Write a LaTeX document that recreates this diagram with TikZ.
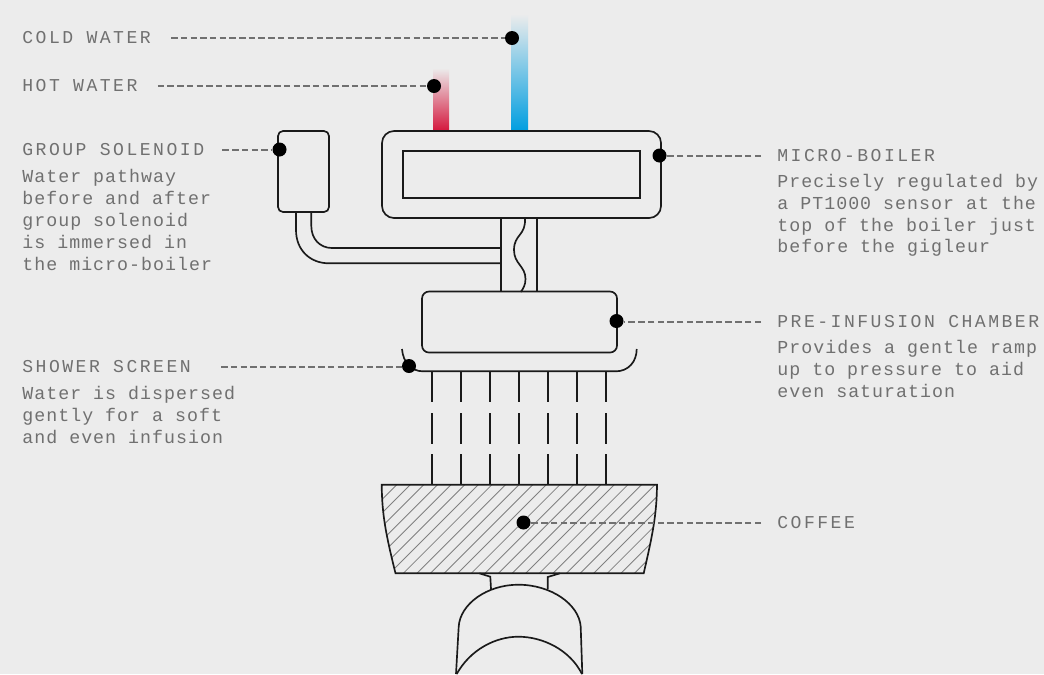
\documentclass[tikz,border=0pt]{standalone}
\usepackage{fontspec}
\setmainfont{Liberation Mono}
\newfontfamily\capsfont[LetterSpace=13.7]{Liberation Mono}
\newfontfamily\bodyfont[LetterSpace=5.6]{Liberation Mono}
\usetikzlibrary{positioning}
\definecolor{mybg}{RGB}{236, 236, 236}
\definecolor{myline}{RGB}{26, 26, 26}
\definecolor{mytext}{RGB}{112, 112, 112}
\definecolor{myred}{RGB}{212, 22, 60}
\definecolor{myblue}{RGB}{0, 158, 224}
\definecolor{mycyan}{RGB}{0, 192, 232}
\def\px{0.02cm}
\tikzset{
    part/.style={draw=myline, line width=0.95pt, rectangle, inner sep=0pt},
    pipe/.style={draw=myline, line width=0.95pt},
    dot/.style={circle, fill=black, inner sep=0pt, minimum size=14*\px},
    leader/.style={draw=mytext, line width=1.1pt, dash pattern=on 6.5*\px off 3.2*\px},
    heading/.style={text=mytext, inner sep=0pt, anchor=west, font=\capsfont\fontsize{10.3pt}{12.5pt}\selectfont},
    detail/.style={text=mytext, inner sep=0pt, align=left, font=\bodyfont\fontsize{10.4pt}{12.5pt}\selectfont},
    hatching/.style={draw=black!50, line width=0.5pt}
}

\begin{document}
\begin{tikzpicture}[x=0.02cm, y=-0.02cm]

    \fill[mybg] (0,0) rectangle (1044,674);
    \useasboundingbox (0,0) rectangle (1044,674);

    % Water inlets
    \shade[top color=mybg, bottom color=myred] (433,68) rectangle (449,131);
    \shade[top color=mybg, middle color=mycyan!85!mybg, bottom color=myblue] (511,14) rectangle (528,131);

    % Boiler and solenoid
    \node[part, rounded corners=12*\px, minimum width=279*\px, minimum height=87*\px] (boiler) at (521.5,174.5) {};
    \node[part, minimum width=237*\px, minimum height=47*\px] (tank) at (521.5,174.5) {};
    \node[part, rounded corners=5*\px, minimum width=51*\px, minimum height=81*\px] (solenoid) at (303.5,171.5) {};
    \node[part, rounded corners=7*\px, minimum width=195*\px, minimum height=61*\px] (chamber) at (519.5,322) {};

    % Pipes
    \coordinate (stemL) at (501.3,218);
    \coordinate (stemR) at (537.3,218);
    \draw[pipe] (stemL) -- (stemL |- chamber.north);
    \draw[pipe] (stemR) -- (stemR |- chamber.north);
    \draw[pipe] (525,218) .. controls (526,236) and (514,234) .. (514,250)
        .. controls (514,264) and (525.5,266) .. (525.5,279)
        .. controls (525.5,285) and (523,289) .. (520.7,292);
    \draw[pipe] (296,212) -- (296,230) .. controls (296,250) and (310,263.3) .. (329,263.3) -- (501.3,263.3);
    \draw[pipe] (311.3,212) -- (311.3,226) .. controls (311.3,239) and (320,248) .. (332,248) -- (501.3,248);

    % Shower screen
    \draw[pipe] (402,349) .. controls (403,362) and (411,371.3) .. (423,371.3) -- (616,371.3)
        .. controls (628,371.3) and (636.7,362) .. (636.7,349);
    \foreach \stream in {432, 461.3, 490, 519.3, 548, 577, 606}
    {
        \draw[pipe] (\stream,371.3) -- (\stream,402);
        \draw[pipe] (\stream,413) -- (\stream,443.7);
        \draw[pipe] (\stream,454) -- (\stream,484.7);
    }

    % Coffee
    \begin{scope}
        \clip (381.7,484.7) -- (657,484.7) .. controls (656.7,515) and (652.5,535) .. (643.7,573.3)
            -- (395.5,573.3) .. controls (386,535) and (382,515) .. (381.7,484.7) -- cycle;
        \foreach \hatch in {867.8, 881.4, ..., 1240}
        {
            \draw[hatching] ({\hatch-480},480) -- ({\hatch-580},580);
        }
    \end{scope}
    \draw[pipe] (381.7,484.7) -- (657,484.7) .. controls (656.7,515) and (652.5,535) .. (643.7,573.3)
        -- (395.5,573.3) .. controls (386,535) and (382,515) .. (381.7,484.7) -- cycle;

    % Group head
    \draw[pipe] (479.3,573.3) -- (490.3,576.7) -- (491,589);
    \draw[pipe] (560,573.3) -- (547.7,577) -- (547.7,589);
    \draw[pipe] (456,674) -- (458.7,626.7) .. controls (460,604) and (487,584.7) .. (518.3,584.7)
        .. controls (551,584.7) and (579,604) .. (580.7,626.7) -- (582.3,674);
    \draw[pipe] (456.7,674) .. controls (470,650) and (495,636.7) .. (518.3,636.7)
        .. controls (543,636.7) and (570,650) .. (582,674);

    % Labels on the left
    \node[heading] (cold) at (22,38) {COLD WATER};
    \node[heading] (hot) at (22,86) {HOT WATER};
    \node[heading] (group) at (22,150) {GROUP SOLENOID};
    \node[detail, below=12.5*\px of group.south west, anchor=north west] (groupinfo)
        {Water pathway\\before and after\\group solenoid\\is immersed in\\the micro-boiler};
    \node[heading] (shower) at (22,367) {SHOWER SCREEN};
    \node[detail, below=12*\px of shower.south west, anchor=north west] (showerinfo)
        {Water is dispersed\\gently for a soft\\and even infusion};

    % Labels on the right
    \node[heading] (micro) at (777,156) {MICRO-BOILER};
    \node[detail, below=11*\px of micro.south west, anchor=north west] (microinfo)
        {Precisely regulated by\\a PT1000 sensor at the\\top of the boiler just\\before the gigleur};
    \node[heading] (pre) at (777,322) {PRE-INFUSION CHAMBER};
    \node[detail, below=11*\px of pre.south west, anchor=north west] (preinfo)
        {Provides a gentle ramp\\up to pressure to aid\\even saturation};
    \node[heading] (coffee) at (777,523) {COFFEE};

    % Markers
    \node[dot] (colddot) at (512,38) {};
    \node[dot] (hotdot) at (434,86) {};
    \node[dot] (groupdot) at (279.5,149.5) {};
    \node[dot] (microdot) at (659.5,155.5) {};
    \node[dot] (predot) at (616.5,321) {};
    \node[dot] (showerdot) at (409,366) {};
    \node[dot] (coffeedot) at (523.5,522.5) {};

    % Leaders
    \draw[leader, shorten <=20*\px] (cold.east) -- (colddot);
    \draw[leader, shorten <=20*\px] (hot.east) -- (hotdot);
    \draw[leader, shorten <=18*\px] (group.east) -- (group.east -| groupdot.west);
    \draw[leader, shorten <=30*\px] (shower.east) -- (shower.east -| showerdot.west);
    \draw[leader, shorten <=16*\px] (micro.west) -- (micro.west -| microdot.east);
    \draw[leader, shorten <=16*\px] (pre.west) -- (pre.west -| predot.east);
    \draw[leader, shorten <=16*\px] (coffee.west) -- (coffee.west -| coffeedot.east);

\end{tikzpicture}
\end{document}
